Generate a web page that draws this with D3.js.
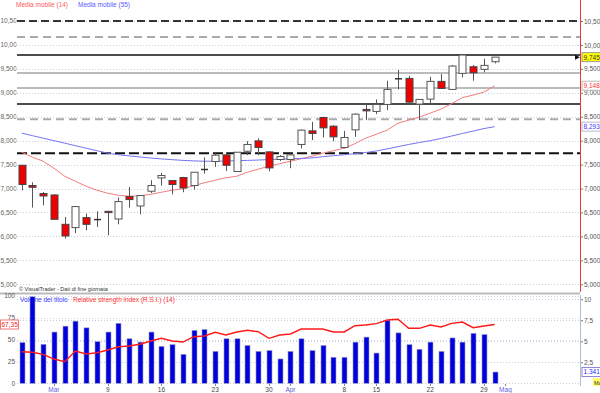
<!DOCTYPE html>
<html>
<head>
<meta charset="utf-8">
<script src="https://cdn.jsdelivr.net/npm/d3@7"></script>
<style>
  body { margin: 0; background: #fff; }
  svg { display: block; font-family: "Liberation Sans", Arial, sans-serif; }
</style>
</head>
<body>
<svg id="chart" width="600" height="393"></svg>
<script>
// Daily prices (euro), one entry per trading session
const open  = [7.487,7.063,6.896,6.866,6.253,6.184,6.393,6.352,6.525,6.364,6.833,6.636,6.944,7.222,7.167,7.230,7.063,7.398,7.565,7.703,7.356,7.780,7.996,7.766,7.607,7.607,7.921,8.205,8.485,8.303,7.858,8.226,8.653,8.611,8.757,9.293,9.301,8.764,8.868,9.239,9.071,9.406,9.544,9.490,9.649];
const high  = [7.490,7.132,6.929,6.881,6.406,6.624,6.477,6.525,6.531,6.812,7.034,6.854,7.174,7.326,7.174,7.243,7.341,7.649,7.732,7.766,7.759,7.990,8.046,7.780,7.697,7.732,8.234,8.393,8.498,8.324,8.205,8.569,8.757,8.862,9.251,9.475,9.356,8.862,9.335,9.391,9.580,9.810,9.580,9.711,9.745];
const low   = [6.965,6.603,6.651,6.350,5.954,6.071,6.128,6.197,6.023,6.253,6.603,6.462,6.908,7.063,6.881,6.923,6.979,7.314,7.452,7.368,7.356,7.697,7.697,7.362,7.577,7.425,7.837,8.011,8.067,7.990,7.837,8.080,8.429,8.554,8.638,9.071,8.764,8.429,8.764,9.092,9.071,9.322,9.251,9.427,9.615];
const close = [7.084,7.027,6.845,6.358,6.009,6.624,6.253,6.352,6.498,6.728,6.770,6.854,7.063,7.272,7.084,7.013,7.341,7.398,7.697,7.487,7.759,7.921,7.858,7.431,7.670,7.703,8.220,8.151,8.268,8.080,8.067,8.554,8.623,8.757,9.071,9.293,8.805,8.862,9.239,9.092,9.559,9.789,9.418,9.573,9.745];

// Moving averages (14 and 55 sessions)
const ma14 = [7.759,7.655,7.571,7.425,7.257,7.153,7.048,6.965,6.902,6.860,6.839,6.849,6.881,6.923,6.965,6.996,7.059,7.121,7.174,7.226,7.257,7.341,7.404,7.467,7.519,7.571,7.623,7.676,7.739,7.791,7.843,7.937,8.052,8.136,8.220,8.366,8.429,8.492,8.575,8.659,8.774,8.900,8.952,9.015,9.148];
const ma55 = [8.157,8.105,8.052,8.000,7.948,7.895,7.843,7.791,7.739,7.707,7.682,7.659,7.638,7.619,7.603,7.588,7.578,7.571,7.571,7.575,7.582,7.588,7.596,7.605,7.613,7.621,7.630,7.640,7.665,7.686,7.707,7.728,7.753,7.785,7.829,7.875,7.921,7.962,8.000,8.046,8.098,8.151,8.201,8.253,8.293];

// Volume (millions) and RSI(14)
const volume = [4.85,10.3,4.64,6.1,6.8,7.4,6.6,4.96,6.1,7.14,5.3,4.9,6.1,4.4,4.6,3.45,6.3,6.4,3.8,5.3,5.3,4.5,3.8,3.9,2.9,3.8,5.3,3.9,4.5,3.1,3.1,4.9,5.5,3.6,7.5,6.0,4.6,4.05,4.9,3.8,5.4,4.9,5.95,5.8,1.341];
const rsi = [36.2,35.5,33.2,27.8,24.7,37,33.6,35,38.1,41.9,42.7,44.7,48.5,51.5,48.5,47.3,53.4,54.2,58.4,55.3,58.8,60.7,59.1,51.5,55.3,56.5,62.2,62.2,62.2,58.8,58.8,66,66.8,68.3,72.5,73.3,63,63,66.8,64.5,68.7,70.2,63.7,65.6,67.35];

// Horizontal studies drawn on the price panel
const levelPrices = [10.5, 10.165, 9.789, 9.412, 9.098, 8.764, 8.45, 7.739];

// Axis ticks
const priceTicks = [5, 5.5, 6, 6.5, 7, 7.5, 8, 8.5, 9, 9.5, 10, 10.5];
const volTicks = [0, 2.5, 5, 7.5, 10];
const rsiTicks = [0, 25, 50, 75, 100];
const dateTickIndex = [3, 8, 13, 18, 23, 25, 30, 33, 38, 43, 45];
const dateTickLabel = ["Mar", "9", "16", "23", "30", "Apr", "8", "15", "22", "29", "Mag"];
const monthLabels = ["Mar", "Apr", "Mag"];

const svg = d3.select("#chart");
const plotLeft = 17, plotRight = 580;

const x = d3.scaleLinear().domain([0, 44]).range([21.7, 494.7]);
const y = d3.scaleLinear().domain([5, 10.5]).range([284.3, 21]);
const yVol = d3.scaleLinear().domain([0, 10]).range([383.3, 299.3]);
const yRsi = d3.scaleLinear().domain([0, 100]).range([383.3, 296]);

const comma = f => v => d3.format(f)(v).replace(".", ",");
const crisp = v => Math.round(v) + 0.5;

// clip for left labels of the price panel
svg.append("clipPath").attr("id", "leftclip")
  .append("rect").attr("x", 0).attr("y", 0).attr("width", 16.5).attr("height", 292);

// ---------- price panel ----------
svg.append("g").selectAll("line")
  .data(priceTicks)
  .join("line")
  .attr("x1", plotLeft).attr("x2", plotRight)
  .attr("y1", d => crisp(y(d))).attr("y2", d => crisp(y(d)))
  .attr("stroke", "#c4cfe0").attr("stroke-dasharray", "1,2");

// level lines
const levelStyle = [
  { c: "#333", w: 2, dash: "8,4" },
  { c: "#aaa", w: 2, dash: "8,5" },
  { c: "#111", w: 1.5, dash: null },
  { c: "#bbb", w: 2, dash: null },
  { c: "#bbb", w: 2, dash: null },
  { c: "#111", w: 1.5, dash: null },
  { c: "#aaa", w: 2, dash: "8,5" },
  { c: "#111", w: 2, dash: "10,4" }
];
svg.append("g").selectAll("line")
  .data(levelPrices)
  .join("line")
  .attr("x1", plotLeft).attr("x2", plotRight)
  .attr("y1", d => y(d)).attr("y2", d => y(d))
  .attr("stroke", (d, i) => levelStyle[i].c)
  .attr("stroke-width", (d, i) => levelStyle[i].w)
  .attr("stroke-dasharray", (d, i) => levelStyle[i].dash);

// left labels (clipped like the original)
svg.append("g").attr("clip-path", "url(#leftclip)")
  .selectAll("text")
  .data(priceTicks)
  .join("text")
  .attr("x", 0.5).attr("y", d => y(d) + 2.3)
  .attr("font-size", 6.5).attr("fill", "#666")
  .text(comma(".3f"));

// moving averages
const line = d3.line().x((d, i) => x(i)).y(d => y(d));
svg.append("path").datum(ma14).attr("d", line)
  .attr("fill", "none").attr("stroke", "#f47c7c").attr("stroke-width", 1);
svg.append("path").datum(ma55).attr("d", line)
  .attr("fill", "none").attr("stroke", "#7474f2").attr("stroke-width", 1);

// candles
const candles = svg.append("g");
open.forEach((o, i) => {
  const c = close[i];
  const cx = Math.round(x(i)) + 0.5;
  candles.append("line")
    .attr("x1", cx).attr("x2", cx)
    .attr("y1", y(high[i])).attr("y2", y(low[i]))
    .attr("stroke", "#555").attr("stroke-width", 1);
  if (o === c) {
    candles.append("line")
      .attr("x1", cx - 3.5).attr("x2", cx + 3.5)
      .attr("y1", y(o)).attr("y2", y(o))
      .attr("stroke", "#333").attr("stroke-width", 1.5);
  } else {
    const top = y(Math.max(o, c)), bot = y(Math.min(o, c));
    candles.append("rect")
      .attr("x", cx - 3.5).attr("width", 7)
      .attr("y", top).attr("height", Math.max(1.2, bot - top))
      .attr("fill", c < o ? "#f00000" : "#fff")
      .attr("stroke", c < o ? "#444" : "#555").attr("stroke-width", 1);
  }
});

// right price axis
svg.append("g")
  .attr("transform", "translate(" + plotRight + ",0)")
  .call(d3.axisRight(y).tickValues(priceTicks).tickSize(3).tickPadding(1).tickFormat(comma(".3f")))
  .call(g => g.select(".domain").remove())
  .call(g => g.selectAll("line").attr("stroke", "#777"))
  .call(g => g.selectAll("text").attr("font-size", 6.5).attr("fill", "#555").attr("font-family", "Liberation Sans, Arial, sans-serif"));

svg.append("line")
  .attr("x1", plotRight + 0.5).attr("x2", plotRight + 0.5)
  .attr("y1", 0).attr("y2", 292)
  .attr("stroke", "#e83a3a").attr("stroke-width", 1);

// arrow on the last price
const lastY = y(close[close.length - 1]);
svg.append("path")
  .attr("d", `M${plotRight - 5},${lastY - 2.5}L${plotRight},${lastY}L${plotRight - 5},${lastY + 2.5}Z`)
  .attr("fill", "#111");

// value boxes on the right
function valueBox(yPos, label, fill, stroke, color) {
  const g = svg.append("g").attr("transform", `translate(${plotRight + 2},${yPos})`);
  g.append("rect").attr("x", 0).attr("y", -4.5).attr("width", 30).attr("height", 9)
    .attr("fill", fill).attr("stroke", stroke).attr("stroke-width", 1);
  g.append("text").attr("x", 1.5).attr("y", 2.4)
    .attr("font-size", 6.5).attr("fill", color).text(label);
}
valueBox(y(ma14[44]), comma(".3f")(ma14[44]), "#fff", "#bbb", "#ff3030");
valueBox(y(ma55[44]), comma(".3f")(ma55[44]), "#fff", "#b8b8d8", "#3b3bff");
valueBox(lastY, comma(".3f")(close[44]), "#ffff00", "#999", "#333");

// legend
svg.append("text").attr("x", 16).attr("y", 6.5).attr("font-size", 6.5)
  .attr("fill", "#ff5a5a").text("Media mobile (14)");
svg.append("text").attr("x", 78).attr("y", 6.5).attr("font-size", 6.5)
  .attr("fill", "#5a5aff").text("Media mobile (55)");

// ---------- lower panel ----------
svg.append("line")
  .attr("x1", 0).attr("x2", plotRight).attr("y1", 293.5).attr("y2", 293.5)
  .attr("stroke", "#bbb").attr("stroke-width", 2);

svg.append("text").attr("x", 19).attr("y", 291).attr("font-size", 5.5)
  .attr("fill", "#333").text("\u00a9 VisualTrader - Dati di fine giornata");

svg.append("g").selectAll("line")
  .data(volTicks)
  .join("line")
  .attr("x1", plotLeft).attr("x2", plotRight)
  .attr("y1", d => crisp(yVol(d))).attr("y2", d => crisp(yVol(d)))
  .attr("stroke", "#c4cfe0").attr("stroke-dasharray", "1,2");
svg.append("g").selectAll("line")
  .data(rsiTicks.filter(d => d > 0 && d !== 25))
  .join("line")
  .attr("x1", plotLeft).attr("x2", plotRight)
  .attr("y1", d => crisp(yRsi(d))).attr("y2", d => crisp(yRsi(d)))
  .attr("stroke", "#d0d8e6").attr("stroke-dasharray", "1,2");

// legend of lower panel (bars drawn over it)
svg.append("text").attr("x", 20).attr("y", 301.5).attr("font-size", 6.5)
  .attr("fill", "#3a3aff").text("Volume del titolo");
svg.append("text").attr("x", 73).attr("y", 301.5).attr("font-size", 6.5)
  .attr("fill", "#ff3030").text("Relative strength index (R.S.I.) (14)");

svg.append("g").selectAll("rect")
  .data(volume)
  .join("rect")
  .attr("x", (d, i) => Math.round(x(i)) - 2)
  .attr("width", 5)
  .attr("y", d => yVol(d))
  .attr("height", d => yVol(0) - yVol(d))
  .attr("fill", "#0000dc")
  .attr("stroke", "#9a9ac8").attr("stroke-width", 0.6);

svg.append("path").datum(rsi)
  .attr("d", d3.line().x((d, i) => x(i)).y(d => yRsi(d)))
  .attr("fill", "none").attr("stroke", "#ff1a1a").attr("stroke-width", 1.4);

// left RSI labels
svg.append("g").selectAll("text")
  .data(rsiTicks)
  .join("text")
  .attr("x", 15).attr("y", d => yRsi(d) + 2.3)
  .attr("text-anchor", "end").attr("font-size", 6.5).attr("fill", "#555")
  .text(d => d);

// right volume axis
svg.append("g")
  .attr("transform", "translate(" + plotRight + ",0)")
  .call(d3.axisRight(yVol).tickValues(volTicks.filter(d => d > 0)).tickSize(3).tickPadding(1)
    .tickFormat(d => String(d).replace(".", ",")))
  .call(g => g.select(".domain").remove())
  .call(g => g.selectAll("line").attr("stroke", "#777"))
  .call(g => g.selectAll("text").attr("font-size", 6.5).attr("fill", "#555").attr("font-family", "Liberation Sans, Arial, sans-serif"));

svg.append("line")
  .attr("x1", plotRight + 0.5).attr("x2", plotRight + 0.5)
  .attr("y1", 295).attr("y2", 386)
  .attr("stroke", "#a9bfd6").attr("stroke-width", 1);

valueBox(yVol(volume[44]), "1.341.22", "#fff", "#8888dd", "#2a2aff");

// RSI value box on the left
const rsiBox = svg.append("g").attr("transform", `translate(0,${yRsi(rsi[44])})`);
rsiBox.append("rect").attr("x", 0.5).attr("y", -4.5).attr("width", 18).attr("height", 9)
  .attr("fill", "#fff").attr("stroke", "#e77").attr("stroke-width", 1);
rsiBox.append("text").attr("x", 1.5).attr("y", 2.4).attr("font-size", 6.5)
  .attr("fill", "#e22").text(comma(".2f")(rsi[44]));

// date axis
const xAxis = svg.append("g");
xAxis.selectAll("line")
  .data(dateTickIndex)
  .join("line")
  .attr("x1", d => Math.round(x(d)) + 0.5).attr("x2", d => Math.round(x(d)) + 0.5)
  .attr("y1", 384).attr("y2", 386)
  .attr("stroke", "#888");
xAxis.selectAll("text")
  .data(dateTickIndex)
  .join("text")
  .attr("x", d => x(d)).attr("y", 391.5)
  .attr("text-anchor", "middle").attr("font-size", 6.5)
  .attr("fill", (d, i) => monthLabels.includes(dateTickLabel[i]) ? "#5f5fe0" : "#444")
  .text((d, i) => dateTickLabel[i]);

// small month marker at the bottom right corner
svg.append("rect").attr("x", 593).attr("y", 378).attr("width", 10).attr("height", 8).attr("fill", "#ffff66");
svg.append("text").attr("x", 594).attr("y", 384.5).attr("font-size", 5.5).attr("fill", "#333").text("Ma");
</script>
</body>
</html>
